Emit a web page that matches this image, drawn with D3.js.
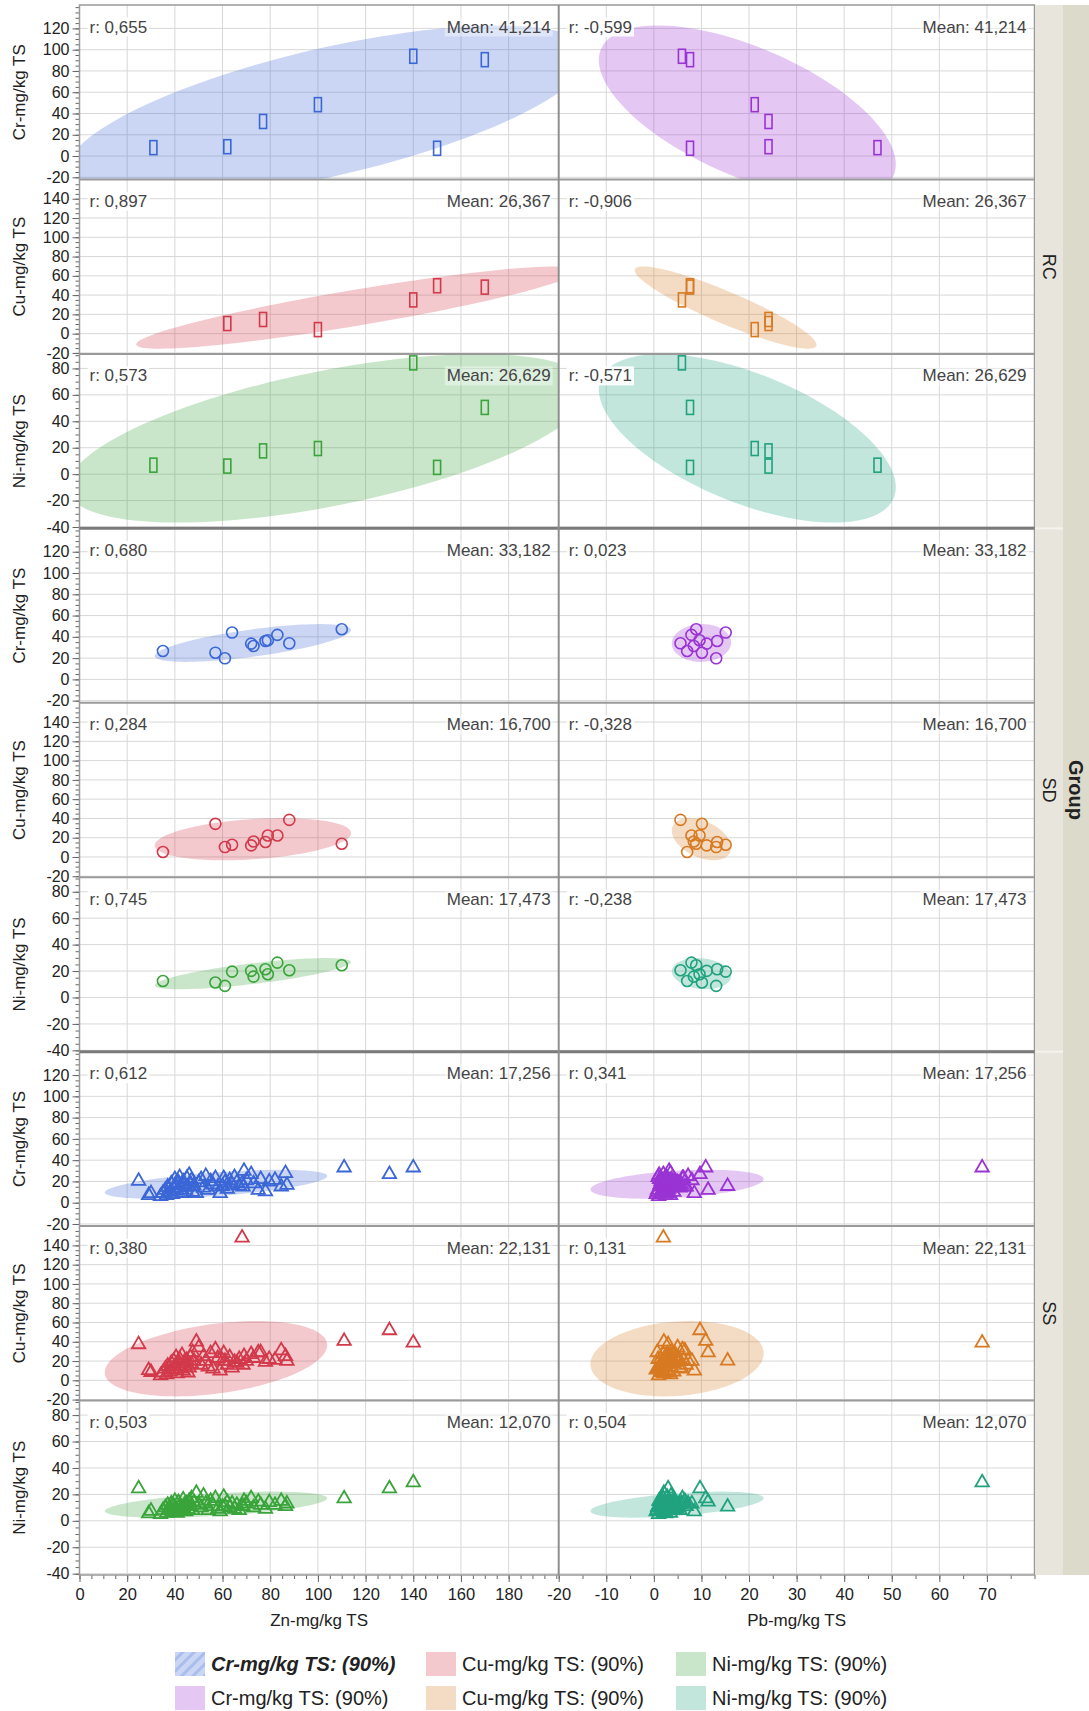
<!DOCTYPE html>
<html>
<head>
<meta charset="utf-8">
<script src="https://cdn.jsdelivr.net/npm/d3@7/dist/d3.min.js"></script>
<style>
    body { margin: 0; background: #fff; }
    svg text { font-family: 'Liberation Sans', Arial, Helvetica, sans-serif; }
    .axis text { font-size: 16px; fill: #222; }
    .axis line { stroke: #666; }
    .axis path { display: none; }
    .grid line { stroke: #d8d8d8; stroke-width: 1; }
    .stat { font-size: 17px; fill: #444; }
    .axis-title { font-size: 17px; fill: #222; }
    .legend text { font-size: 20px; fill: #222; }
</style>
</head>
<body>
<svg width="1089" height="1711"></svg>
<script>
// ---- data ----
var groups = ['RC', 'SD', 'SS'];
var yNames = ['Cr-mg/kg TS', 'Cu-mg/kg TS', 'Ni-mg/kg TS'];
var xNames = ['Zn-mg/kg TS', 'Pb-mg/kg TS'];

// RC samples (rectangles)
var rcZn = [31, 62, 77, 100, 140, 150, 170];
var rcPb = [47, 24.1, 24.1, 21.2, 5.9, 7.6, 7.6];
var rcCr = [7.9, 8.8, 32.5, 48.3, 93.8, 7.3, 90.6];
var rcCu = [null, 10.5, 14.7, 4.2, 35, 49.7, 48.3];
var rcNi = [6.8, 6.1, 17.6, 19.4, 84.2, 5.1, 50.5];

// SD samples (circles)
var sdZn = [35, 57, 61, 64, 72, 73, 78, 79, 83, 88, 110];
var sdPb = [7.0, 10.1, 13.1, 15.1, 11.1, 8.4, 13.3, 9.6, 7.9, 5.6, 8.9];
var sdCr = [26.7, 25.1, 19.8, 44, 33.6, 31.4, 36.1, 36.8, 41.8, 33.9, 47.1];
var sdCu = [5.2, 34.4, 10.3, 12.7, 12, 16.1, 15.5, 22.3, 22.3, 38.5, 13.7];
var sdNi = [12.5, 11.3, 8.8, 19.6, 20.1, 15.8, 21.4, 17.6, 26.4, 20.6, 24.4];

// SS samples (triangles)
var ssZn = [24.8, 30, 29, 68.2, 111, 130, 140,
    34, 35, 36, 36.5, 37, 38, 38.5, 39, 39.5, 40, 40.5, 41, 41.5, 42, 42.5, 43, 43.5, 44, 44.5, 45, 45.5, 46, 46.5, 47, 47.5, 48,
    49, 50, 51, 52, 53, 54, 55, 56, 57, 58, 59, 60, 60.5, 61, 62, 63, 64, 65,
    66, 67, 68.6, 69, 70, 72, 73, 75, 76, 78, 79.6, 82, 84.6, 86.4, 87];
var ssPb = [3.0, 1.5, 2.5, 2.0, 10.9, 9.7, 69,
    1.0, 2.2, 0.8, 3.5, 1.8, 4.2, 2.6, 0.5, 3.1, 1.2, 4.8, 2.0, 3.8, 0.9, 5.5, 2.9, 1.5, 4.0, 2.3, 6.2, 3.3, 1.1, 4.5, 2.7, 0.7, 3.9,
    2.1, 5.0, 1.6, 3.6, 7.2, 2.4, 4.4, 1.3, 6.0, 3.0, 8.5, 15.5, 2.8, 4.9, 1.9, 3.4, 5.8, 2.6,
    4.1, 1.4, 6.8, 3.2, 8.0, 2.0, 5.2, 11.4, 3.7, 1.7, 4.6, 2.9, 6.5, 3.5, 5.4];
var ssCr = [20.4, 8.8, 7, 18, 33, 26.7, 33,
    6, 9, 12, 7, 15, 10, 18, 8, 13, 22, 16, 11, 19, 24, 14, 9, 20, 17, 12, 23, 15, 26, 18, 21, 10, 16,
    8.8, 19, 22, 14, 25, 12, 20, 17, 23, 15, 8.8, 15.6, 23, 19, 13, 21, 17, 24,
    19, 16, 15, 29.8, 21, 26.7, 18, 11.9, 22, 10.5, 19.8, 21.4, 15.1, 27.7, 16.7];
var ssCu = [37.3, 8.5, 10.5, 148, 40.7, 51.8, 39,
    5, 8, 12, 6, 15, 9, 18, 11, 20, 14, 24, 7, 17, 22, 12, 26, 10, 19, 15, 21, 8, 13, 24, 17, 29, 20,
    40, 34, 16, 25, 20, 14, 28, 12, 32, 23, 10, 20.3, 28, 20, 16, 24, 13, 19,
    18, 22, 16, 25, 20, 27, 23, 28.9, 29, 19, 22, 21, 31, 25, 20];
var ssNi = [24.5, 7.5, 5.5, 11, 16.9, 24.5, 29,
    5, 8, 10, 6, 12, 9, 13, 7, 11, 15, 9, 6, 14, 11, 8, 10, 16, 12, 7, 13, 9, 15, 11, 17, 8, 14,
    21, 12, 10, 19, 13, 8, 15, 11, 17, 9, 7, 10.6, 18, 11, 14, 10, 13, 9,
    12, 8, 11, 15, 13, 17, 10, 14.4, 12, 9, 14, 12, 15, 11, 13];

// correlation and mean labels as printed, [group][yVar][xVar]
var rLabels = [
    [['0,655', '-0,599'], ['0,897', '-0,906'], ['0,573', '-0,571']],
    [['0,680', '0,023'], ['0,284', '-0,328'], ['0,745', '-0,238']],
    [['0,612', '0,341'], ['0,380', '0,131'], ['0,503', '0,504']]
];
var meanLabels = [
    ['41,214', '26,367', '26,629'],
    ['33,182', '16,700', '17,473'],
    ['17,256', '22,131', '12,070']
];

// axis ranges and tick labels
var crDomain = [-22, 142], cuDomain = [-21, 160], niDomain = [-41, 91];
var znDomain = [0, 201], pbDomain = [-20, 80];
var crTicks = [-20, 0, 20, 40, 60, 80, 100, 120];
var cuTicks = [-20, 0, 20, 40, 60, 80, 100, 120, 140];
var niTicks = [-40, -20, 0, 20, 40, 60, 80];
var znTicks = [0, 20, 40, 60, 80, 100, 120, 140, 160, 180];
var pbTicks = [-20, -10, 0, 10, 20, 30, 40, 50, 60, 70];

var legendNames = ['Cr-mg/kg TS: (90%)', 'Cu-mg/kg TS: (90%)', 'Ni-mg/kg TS: (90%)'];

// ---- layout ----
var svg = d3.select('svg');
var plot = {l: 79.5, mid: 558.7, r: 1034.5, t: 5, b: 1575};
var rowH = (plot.b - plot.t) / 9;

var colColors = [['#3a66d6', '#d2394a', '#39a43a'], ['#9a33d4', '#d77a22', '#20a27f']];
var groupData = [
    {x: [rcZn, rcPb], y: [rcCr, rcCu, rcNi], shape: 'rect'},
    {x: [sdZn, sdPb], y: [sdCr, sdCu, sdNi], shape: 'circle'},
    {x: [ssZn, ssPb], y: [ssCr, ssCu, ssNi], shape: 'triangle'}
];
var yDomains = [crDomain, cuDomain, niDomain];
var yTickSets = [crTicks, cuTicks, niTicks];

var xScales = [
    d3.scaleLinear().domain(znDomain).range([plot.l, plot.mid]),
    d3.scaleLinear().domain(pbDomain).range([plot.mid, plot.r])
];
var xTickSets = [znTicks, pbTicks];

var k90 = Math.sqrt(-2 * Math.log(0.1)); // 90% normal density contour

// pairs where both values exist
function pairs(xs, ys) {
    var pts = [];
    xs.forEach(function(x, i) {
        if (x != null && ys[i] != null) pts.push([x, ys[i]]);
    });
    return pts;
}

// bivariate normal ellipse from the points
function ellipse(pts) {
    var n = pts.length;
    var mx = d3.mean(pts, function(d) { return d[0]; });
    var my = d3.mean(pts, function(d) { return d[1]; });
    var sxx = 0, syy = 0, sxy = 0;
    pts.forEach(function(p) {
        sxx += (p[0] - mx) * (p[0] - mx);
        syy += (p[1] - my) * (p[1] - my);
        sxy += (p[0] - mx) * (p[1] - my);
    });
    sxx /= n - 1; syy /= n - 1; sxy /= n - 1;
    var l11 = Math.sqrt(sxx), l21 = sxy / l11;
    var l22 = Math.sqrt(Math.max(syy - l21 * l21, 0));
    return d3.range(0, 360, 3).map(function(a) {
        var t = a * Math.PI / 180;
        return [mx + k90 * l11 * Math.cos(t), my + k90 * (l21 * Math.cos(t) + l22 * Math.sin(t))];
    });
}

var defs = svg.append('defs');
var triangle = d3.symbol().type(d3.symbolTriangle).size(78);

function drawRow(row) {
    var g = Math.floor(row / 3), v = row % 3;
    var rowTop = plot.t + row * rowH;
    var yScale = d3.scaleLinear().domain(yDomains[v]).range([rowTop + rowH, rowTop]);

    xScales.forEach(function(xScale, c) {
        var x0 = xScale.range()[0], x1 = xScale.range()[1];
        var color = colColors[c][v];
        var clipId = 'clip' + row + '_' + c;

        defs.append('clipPath').attr('id', clipId)
            .append('rect')
            .attr('x', x0).attr('y', rowTop)
            .attr('width', x1 - x0).attr('height', rowH);

        var panel = svg.append('g').attr('class', 'panel');

        // grid lines
        var grid = panel.append('g').attr('class', 'grid');
        grid.selectAll('.vg')
            .data(xTickSets[c].filter(function(t) { return xScale(t) > x0 + 1; }))
            .enter().append('line')
            .attr('x1', function(d) { return xScale(d); })
            .attr('x2', function(d) { return xScale(d); })
            .attr('y1', rowTop).attr('y2', rowTop + rowH);
        grid.selectAll('.hg')
            .data(yTickSets[v])
            .enter().append('line')
            .attr('x1', x0).attr('x2', x1)
            .attr('y1', function(d) { return yScale(d); })
            .attr('y2', function(d) { return yScale(d); });

        // density ellipse
        var pts = pairs(groupData[g].x[c], groupData[g].y[v]);
        panel.append('path')
            .datum(ellipse(pts))
            .attr('clip-path', 'url(#' + clipId + ')')
            .attr('fill', color)
            .attr('fill-opacity', 0.27)
            .attr('d', d3.line()
                .x(function(d) { return xScale(d[0]); })
                .y(function(d) { return yScale(d[1]); })
                .curve(d3.curveLinearClosed));

        // r and mean labels with white backing
        var rText = panel.append('text').attr('class', 'stat')
            .attr('x', x0 + 10).attr('y', rowTop + 22)
            .attr('dominant-baseline', 'central')
            .text('r: ' + rLabels[g][v][c]);
        var mText = panel.append('text').attr('class', 'stat')
            .attr('x', x1 - 8).attr('y', rowTop + 22)
            .attr('text-anchor', 'end')
            .attr('dominant-baseline', 'central')
            .text('Mean: ' + meanLabels[g][v]);
        [[rText, 0.9], [mText, 0.4]].forEach(function(item) {
            var t = item[0];
            var bb = t.node().getBBox();
            panel.insert('rect', function() { return t.node(); })
                .attr('x', bb.x - 2).attr('y', bb.y)
                .attr('width', bb.width + 4).attr('height', bb.height)
                .attr('fill', '#fff').attr('fill-opacity', item[1]);
        });

        // points
        var shape = groupData[g].shape;
        var marks = panel.append('g')
            .attr('fill', 'none')
            .attr('stroke', color)
            .attr('stroke-width', shape === 'triangle' ? 1.8 : 1.6);
        if (shape === 'rect') {
            marks.selectAll('rect').data(pts).enter().append('rect')
                .attr('x', function(d) { return xScale(d[0]) - 3.5; })
                .attr('y', function(d) { return yScale(d[1]) - 7; })
                .attr('width', 7).attr('height', 14);
        } else if (shape === 'circle') {
            marks.selectAll('circle').data(pts).enter().append('circle')
                .attr('cx', function(d) { return xScale(d[0]); })
                .attr('cy', function(d) { return yScale(d[1]); })
                .attr('r', 5.5);
        } else {
            marks.selectAll('path').data(pts).enter().append('path')
                .attr('d', triangle)
                .attr('transform', function(d) {
                    return 'translate(' + [xScale(d[0]), yScale(d[1])] + ')';
                });
        }
    });

    // y axis for this row
    var minorY = d3.range(yDomains[v][0], yDomains[v][1], 1).filter(function(t) { return t % 5 === 0; });
    svg.append('g').attr('class', 'axis')
        .attr('transform', 'translate(' + plot.l + ',0)')
        .call(d3.axisLeft(yScale).tickValues(minorY).tickSize(4).tickSizeOuter(0).tickFormat(''));
    svg.append('g').attr('class', 'axis')
        .attr('transform', 'translate(' + plot.l + ',0)')
        .call(d3.axisLeft(yScale).tickValues(yTickSets[v]).tickSize(7).tickSizeOuter(0).tickPadding(3)
            .tickFormat(function(d) { return String(d); }));

    svg.append('text').attr('class', 'axis-title')
        .attr('transform', 'translate(' + [19, rowTop + rowH / 2] + ') rotate(-90)')
        .attr('text-anchor', 'middle')
        .attr('dominant-baseline', 'central')
        .text(yNames[v]);
}

for (var row = 0; row < 9; row++) drawRow(row);

// x axes
xScales.forEach(function(xScale, c) {
    var dom = xScale.domain();
    var minorX = d3.range(Math.ceil(dom[0] / 5) * 5, dom[1] + 0.1, 5);
    svg.append('g').attr('class', 'axis')
        .attr('transform', 'translate(0,' + plot.b + ')')
        .call(d3.axisBottom(xScale).tickValues(minorX).tickSize(4).tickSizeOuter(0).tickFormat(''));
    var ax = svg.append('g').attr('class', 'axis')
        .attr('transform', 'translate(0,' + plot.b + ')')
        .call(d3.axisBottom(xScale).tickValues(xTickSets[c]).tickSize(7).tickSizeOuter(0).tickPadding(6)
            .tickFormat(function(d) { return String(d); }));
    ax.selectAll('text').style('font-size', '16.5px');
    svg.append('text').attr('class', 'axis-title')
        .attr('x', (xScale.range()[0] + xScale.range()[1]) / 2)
        .attr('y', 1626)
        .attr('text-anchor', 'middle')
        .text(xNames[c]);
});

// panel borders
var borders = svg.append('g').attr('fill', 'none');
borders.append('rect')
    .attr('x', plot.l).attr('y', plot.t)
    .attr('width', plot.r - plot.l).attr('height', plot.b - plot.t)
    .attr('stroke', '#999').attr('stroke-width', 1.5);
for (var i = 1; i < 9; i++) {
    var yy = plot.t + i * rowH;
    borders.append('line')
        .attr('x1', plot.l).attr('x2', plot.r)
        .attr('y1', yy).attr('y2', yy)
        .attr('stroke', i % 3 === 0 ? '#7a7a7a' : '#9a9a9a')
        .attr('stroke-width', i % 3 === 0 ? 3 : 2);
}
borders.append('line')
    .attr('x1', plot.mid).attr('x2', plot.mid)
    .attr('y1', plot.t).attr('y2', plot.b)
    .attr('stroke', '#8f8f8f').attr('stroke-width', 2);

// group strip on the right
svg.append('rect')
    .attr('x', plot.r + 1).attr('y', plot.t)
    .attr('width', 1063 - plot.r - 1).attr('height', plot.b - plot.t)
    .attr('fill', '#e8e6dc');
svg.append('rect')
    .attr('x', 1063).attr('y', plot.t)
    .attr('width', 1089 - 1063).attr('height', plot.b - plot.t)
    .attr('fill', '#dcdacb');
groups.forEach(function(name, gi) {
    var gy = plot.t + gi * 3 * rowH;
    if (gi > 0) {
        svg.append('line')
            .attr('x1', plot.r + 1).attr('x2', 1063)
            .attr('y1', gy).attr('y2', gy)
            .attr('stroke', '#f4f3ee').attr('stroke-width', 2);
    }
    svg.append('text')
        .attr('transform', 'translate(' + [1049, gy + 1.5 * rowH] + ') rotate(90)')
        .attr('text-anchor', 'middle')
        .attr('dominant-baseline', 'central')
        .style('font-size', '18px').style('fill', '#222')
        .text(name);
});
svg.append('text')
    .attr('transform', 'translate(' + [1076, (plot.t + plot.b) / 2] + ') rotate(90)')
    .attr('text-anchor', 'middle')
    .attr('dominant-baseline', 'central')
    .style('font-size', '20px').style('font-weight', 'bold').style('fill', '#222')
    .text('Group');

// legend
var hatch = defs.append('pattern').attr('id', 'hatch')
    .attr('patternUnits', 'userSpaceOnUse')
    .attr('width', 8).attr('height', 8)
    .attr('patternTransform', 'rotate(45)');
hatch.append('rect').attr('width', 8).attr('height', 8)
    .attr('fill', colColors[0][0]).attr('fill-opacity', 0.27);
hatch.append('rect').attr('width', 3).attr('height', 8)
    .attr('fill', colColors[0][0]).attr('fill-opacity', 0.22);

var legend = svg.append('g').attr('class', 'legend');
var legendX = [175, 426, 676];
var legendY = [1652, 1686];
for (var lr = 0; lr < 2; lr++) {
    for (var lc = 0; lc < 3; lc++) {
        var sw = legend.append('rect')
            .attr('x', legendX[lc]).attr('y', legendY[lr])
            .attr('width', 30).attr('height', 24);
        if (lr === 0 && lc === 0) {
            sw.attr('fill', 'url(#hatch)');
        } else {
            sw.attr('fill', colColors[lr][lc]).attr('fill-opacity', 0.27);
        }
        var lt = legend.append('text')
            .attr('x', legendX[lc] + 36).attr('y', legendY[lr] + 12)
            .attr('dominant-baseline', 'central')
            .text(legendNames[lc]);
        if (lr === 0 && lc === 0) {
            lt.style('font-weight', 'bold').style('font-style', 'italic');
        }
    }
}
</script>
</body>
</html>
